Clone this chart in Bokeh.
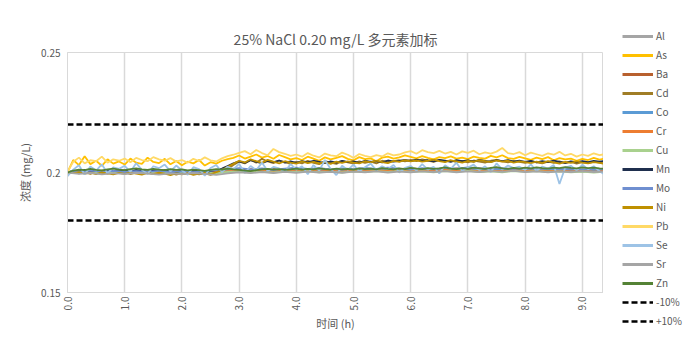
from bokeh.plotting import figure
from bokeh.models import Legend, LegendItem, FixedTicker, Range1d
from bokeh.layouts import row, column
from bokeh.embed import file_html
from bokeh.resources import INLINE

TITLE = "25% NaCl 0.20 mg/L 多元素加标"
X_LABEL = "时间 (h)"
Y_LABEL = "浓度 (mg/L)"

# sample times (h)
TIME = [round(i * 0.1, 1) for i in range(95)]
TIME_COARSE = [round(i * 0.2, 1) for i in range(48)]

X_TICKS = [0, 1, 2, 3, 4, 5, 6, 7, 8, 9]
X_TICK_LABELS = ["0.0", "1.0", "2.0", "3.0", "4.0", "5.0", "6.0", "7.0", "8.0", "9.0"]
Y_TICKS = [0.15, 0.2, 0.25]
Y_TICK_LABELS = ["0.15", "0.2", "0.25"]

LIMIT_LOW = 0.18
LIMIT_HIGH = 0.22

Al = [0.2000, 0.2004, 0.2001, 0.2006, 0.2002, 0.2005, 0.2000, 0.2003, 0.2007, 0.2002,
      0.2004, 0.1999, 0.2003, 0.2006, 0.2001, 0.2005, 0.2008, 0.2003, 0.2006, 0.2002,
      0.2007, 0.2004, 0.2009, 0.2005, 0.2008, 0.2003, 0.2007, 0.2010, 0.2005, 0.2008,
      0.2004, 0.2009, 0.2006, 0.2010, 0.2005, 0.2008, 0.2004, 0.2007, 0.2011, 0.2006,
      0.2009, 0.2005, 0.2008, 0.2004, 0.2007, 0.2003, 0.2006, 0.2004]
Ba = [0.2000, 0.2006, 0.2002, 0.2008, 0.2003, 0.2007, 0.2001, 0.2005, 0.2009, 0.2004,
      0.2006, 0.2001, 0.2005, 0.2002, 0.2006, 0.2010, 0.2014, 0.2011, 0.2015, 0.2012,
      0.2016, 0.2013, 0.2017, 0.2012, 0.2015, 0.2011, 0.2016, 0.2013, 0.2017, 0.2014,
      0.2018, 0.2013, 0.2016, 0.2012, 0.2017, 0.2014, 0.2018, 0.2013, 0.2016, 0.2012,
      0.2015, 0.2011, 0.2016, 0.2013, 0.2015, 0.2012, 0.2014, 0.2011]
Co = [0.2000, 0.2003, 0.2007, 0.2002, 0.2006, 0.2001, 0.2005, 0.2008, 0.2003, 0.2006,
      0.2002, 0.2005, 0.2000, 0.2004, 0.2007, 0.2010, 0.2006, 0.2011, 0.2007, 0.2012,
      0.2008, 0.2011, 0.2006, 0.2010, 0.2013, 0.2008, 0.2012, 0.2009, 0.2013, 0.2008,
      0.2011, 0.2015, 0.2010, 0.2013, 0.2009, 0.2012, 0.2016, 0.2011, 0.2014, 0.2009,
      0.2012, 0.2008, 0.2011, 0.2014, 0.2009, 0.2012, 0.2008, 0.2010]
Cr = [0.2000, 0.2005, 0.2001, 0.2004, 0.2000, 0.2006, 0.2002, 0.2005, 0.2001, 0.2004,
      0.2007, 0.2002, 0.2005, 0.2001, 0.2006, 0.2009, 0.2005, 0.2008, 0.2004, 0.2009,
      0.2006, 0.2010, 0.2005, 0.2008, 0.2004, 0.2009, 0.2006, 0.2011, 0.2007, 0.2010,
      0.2005, 0.2009, 0.2006, 0.2011, 0.2007, 0.2010, 0.2006, 0.2009, 0.2005, 0.2010,
      0.2007, 0.2011, 0.2006, 0.2009, 0.2005, 0.2008, 0.2004, 0.2007]
Cu = [0.2000, 0.2002, 0.1998, 0.2003, 0.1999, 0.2002, 0.1997, 0.2001, 0.2004, 0.1999,
      0.2002, 0.1998, 0.2001, 0.1997, 0.2002, 0.2005, 0.2001, 0.2004, 0.2000, 0.2005,
      0.2002, 0.2006, 0.2001, 0.2004, 0.2000, 0.2005, 0.2002, 0.2006, 0.2003, 0.2007,
      0.2002, 0.2005, 0.2001, 0.2006, 0.2003, 0.2007, 0.2002, 0.2005, 0.2001, 0.2006,
      0.2003, 0.2006, 0.2002, 0.2005, 0.2001, 0.2004, 0.2000, 0.2003]
Mo = [0.2000, 0.2004, 0.2008, 0.2003, 0.2007, 0.2002, 0.2006, 0.2003, 0.2007, 0.2002,
      0.2005, 0.2001, 0.2006, 0.2010, 0.2014, 0.2018, 0.2013, 0.2017, 0.2012, 0.2016,
      0.2020, 0.2015, 0.2018, 0.2013, 0.2017, 0.2014, 0.2019, 0.2015, 0.2020, 0.2016,
      0.2013, 0.2018, 0.2014, 0.2019, 0.2016, 0.2021, 0.2017, 0.2014, 0.2018, 0.2015,
      0.2019, 0.2014, 0.2017, 0.2013, 0.2016, 0.2012, 0.2015, 0.2013]
Sr = [0.2000, 0.1994, 0.1998, 0.1992, 0.1997, 0.1993, 0.1999, 0.1995, 0.1991, 0.1996,
      0.1993, 0.1998, 0.1994, 0.1990, 0.1996, 0.2001, 0.1997, 0.2002, 0.1998, 0.2003,
      0.1999, 0.2004, 0.2000, 0.2003, 0.1999, 0.2004, 0.2001, 0.2005, 0.2000, 0.2004,
      0.2001, 0.2005, 0.2002, 0.2006, 0.2001, 0.2005, 0.2002, 0.2006, 0.2003, 0.2007,
      0.2002, 0.2005, 0.2001, 0.2005, 0.2002, 0.2006, 0.2002, 0.2004]

As = [0.2001, 0.2052, 0.2031, 0.2068, 0.2035, 0.2049, 0.2028, 0.2055, 0.2037, 0.2046,
      0.2033, 0.2058, 0.2041, 0.2036, 0.2062, 0.2044, 0.2039, 0.2057, 0.2034, 0.2048,
      0.2030, 0.2045, 0.2038, 0.2052, 0.2029, 0.2043, 0.2037, 0.2049, 0.2056, 0.2061,
      0.2071, 0.2058, 0.2066, 0.2075, 0.2062, 0.2069, 0.2057, 0.2073, 0.2064, 0.2055,
      0.2060, 0.2052, 0.2066, 0.2058, 0.2049, 0.2063, 0.2055, 0.2061, 0.2068, 0.2057,
      0.2051, 0.2064, 0.2056, 0.2059, 0.2047, 0.2062, 0.2066, 0.2058, 0.2063, 0.2071,
      0.2065, 0.2059, 0.2068, 0.2061, 0.2055, 0.2064, 0.2060, 0.2067, 0.2058, 0.2062,
      0.2056, 0.2066, 0.2061, 0.2058, 0.2069, 0.2063, 0.2072, 0.2060, 0.2057, 0.2065,
      0.2059, 0.2053, 0.2062, 0.2056, 0.2064, 0.2051, 0.2060, 0.2055, 0.2058, 0.2049,
      0.2057, 0.2052, 0.2061, 0.2054, 0.2058]
Cd = [0.2000, 0.2003, 0.1996, 0.2001, 0.1994, 0.2002, 0.1998, 0.1995, 0.2003, 0.1997,
      0.2001, 0.1993, 0.1999, 0.2004, 0.1996, 0.2000, 0.1994, 0.2002, 0.1998, 0.1991,
      0.1997, 0.1993, 0.1999, 0.1992, 0.1996, 0.1990, 0.1997, 0.2003, 0.2015, 0.2031,
      0.2045, 0.2038, 0.2052, 0.2041, 0.2057, 0.2046, 0.2039, 0.2050, 0.2043, 0.2036,
      0.2044, 0.2038, 0.2049, 0.2040, 0.2035, 0.2047, 0.2041, 0.2036, 0.2048, 0.2042,
      0.2037, 0.2046, 0.2040, 0.2045, 0.2038, 0.2049, 0.2043, 0.2047, 0.2051, 0.2046,
      0.2053, 0.2047, 0.2055, 0.2049, 0.2044, 0.2052, 0.2046, 0.2050, 0.2043, 0.2048,
      0.2042, 0.2050, 0.2045, 0.2041, 0.2049, 0.2053, 0.2046, 0.2042, 0.2048, 0.2044,
      0.2040, 0.2047, 0.2042, 0.2038, 0.2045, 0.2040, 0.2046, 0.2039, 0.2044, 0.2037,
      0.2043, 0.2039, 0.2045, 0.2041, 0.2038]
Mn = [0.2000, 0.2008, 0.2004, 0.2011, 0.2006, 0.2009, 0.2003, 0.2010, 0.2007, 0.2005,
      0.2009, 0.2004, 0.2011, 0.2007, 0.2002, 0.2008, 0.2005, 0.2010, 0.2006, 0.2003,
      0.2007, 0.2002, 0.2009, 0.2005, 0.2001, 0.2006, 0.2010, 0.2016, 0.2027, 0.2038,
      0.2046, 0.2040, 0.2051, 0.2044, 0.2039, 0.2048, 0.2043, 0.2050, 0.2041, 0.2046,
      0.2040, 0.2047, 0.2042, 0.2049, 0.2044, 0.2039, 0.2046, 0.2041, 0.2048, 0.2043,
      0.2046, 0.2040, 0.2049, 0.2044, 0.2047, 0.2042, 0.2050, 0.2045, 0.2048, 0.2053,
      0.2047, 0.2054, 0.2048, 0.2051, 0.2046, 0.2053, 0.2049, 0.2044, 0.2052, 0.2047,
      0.2050, 0.2045, 0.2053, 0.2048, 0.2044, 0.2051, 0.2047, 0.2052, 0.2045, 0.2049,
      0.2044, 0.2048, 0.2042, 0.2047, 0.2043, 0.2049, 0.2044, 0.2040, 0.2046, 0.2042,
      0.2047, 0.2043, 0.2048, 0.2045, 0.2049]
Ni = [0.2000, 0.1997, 0.2002, 0.1995, 0.1999, 0.1993, 0.2001, 0.1996, 0.1992, 0.1998,
      0.1994, 0.2000, 0.1995, 0.1991, 0.1998, 0.1993, 0.1999, 0.1995, 0.1989, 0.1996,
      0.1992, 0.1998, 0.1990, 0.1995, 0.1999, 0.1993, 0.2001, 0.2010, 0.2024, 0.2036,
      0.2049, 0.2042, 0.2055, 0.2047, 0.2040, 0.2053, 0.2045, 0.2038, 0.2047, 0.2041,
      0.2037, 0.2046, 0.2039, 0.2044, 0.2038, 0.2043, 0.2036, 0.2045, 0.2040, 0.2046,
      0.2041, 0.2038, 0.2047, 0.2042, 0.2049, 0.2043, 0.2039, 0.2048, 0.2044, 0.2052,
      0.2046, 0.2051, 0.2045, 0.2049, 0.2054, 0.2047, 0.2043, 0.2051, 0.2046, 0.2041,
      0.2048, 0.2044, 0.2052, 0.2047, 0.2043, 0.2050, 0.2045, 0.2049, 0.2041, 0.2046,
      0.2043, 0.2039, 0.2045, 0.2040, 0.2047, 0.2042, 0.2037, 0.2044, 0.2040, 0.2046,
      0.2041, 0.2038, 0.2043, 0.2040, 0.2036]
Pb = [0.2003, 0.2045, 0.2062, 0.2038, 0.2051, 0.2047, 0.2066, 0.2041, 0.2055, 0.2049,
      0.2058, 0.2043, 0.2061, 0.2052, 0.2047, 0.2064, 0.2055, 0.2049, 0.2060, 0.2046,
      0.2052, 0.2041, 0.2057, 0.2048, 0.2063, 0.2051, 0.2046, 0.2059, 0.2068, 0.2074,
      0.2082, 0.2089, 0.2076, 0.2094, 0.2081, 0.2072, 0.2098, 0.2085, 0.2078, 0.2069,
      0.2075, 0.2066, 0.2081, 0.2070, 0.2063, 0.2079, 0.2071, 0.2068, 0.2083, 0.2074,
      0.2061, 0.2077, 0.2069, 0.2064, 0.2072, 0.2067, 0.2080, 0.2071, 0.2075, 0.2084,
      0.2089, 0.2078, 0.2093, 0.2085, 0.2081, 0.2090, 0.2079, 0.2086, 0.2075, 0.2088,
      0.2082, 0.2091, 0.2076, 0.2084, 0.2079, 0.2087, 0.2102, 0.2081, 0.2077, 0.2085,
      0.2072, 0.2083, 0.2076, 0.2069, 0.2080, 0.2074, 0.2086, 0.2071, 0.2078, 0.2066,
      0.2075, 0.2069, 0.2080, 0.2072, 0.2077]
Se = [0.1985, 0.2012, 0.2030, 0.1992, 0.2025, 0.2008, 0.2034, 0.1996, 0.2021, 0.2015,
      0.2028, 0.2003, 0.2039, 0.2011, 0.1994, 0.2026, 0.2018, 0.2033, 0.2005, 0.2029,
      0.2009, 0.1991, 0.2022, 0.2014, 0.1987, 0.2019, 0.2031, 0.2002, 0.2024, 0.2013,
      0.2036, 0.1998, 0.2027, 0.2010, 0.2041, 0.2006, 0.2023, 0.2017, 0.2003, 0.2035,
      0.2012, 0.2026, 0.1993, 0.2031, 0.2008, 0.2052, 0.2015, 0.1989, 0.2028, 0.2011,
      0.2033, 0.2004, 0.2022, 0.2037, 0.2009, 0.2026, 0.2014, 0.2031, 0.2000, 0.2019,
      0.2027, 0.2008, 0.2035, 0.2012, 0.2024, 0.1996, 0.2030, 0.2015, 0.2041, 0.2006,
      0.2021, 0.2033, 0.2010, 0.2026, 0.2002, 0.2038, 0.2013, 0.2029, 0.2018, 0.2024,
      0.2011, 0.2034, 0.2007, 0.2025, 0.2016, 0.2031, 0.1952, 0.2020, 0.2028, 0.2009,
      0.2032, 0.2014, 0.2026, 0.2005, 0.1990]
Zn = [0.2000, 0.2008, 0.2012, 0.2010, 0.2015, 0.2011, 0.2009, 0.2013, 0.2016, 0.2012,
      0.2010, 0.2014, 0.2017, 0.2013, 0.2011, 0.2015, 0.2012, 0.2010, 0.2014, 0.2011,
      0.2013, 0.2009, 0.2012, 0.2010, 0.2007, 0.2011, 0.2014, 0.2012, 0.2016, 0.2013,
      0.2011, 0.2008, 0.2006, 0.2010, 0.2013, 0.2015, 0.2012, 0.2014, 0.2011, 0.2013,
      0.2016, 0.2012, 0.2015, 0.2013, 0.2017, 0.2014, 0.2012, 0.2016, 0.2013, 0.2015,
      0.2012, 0.2017, 0.2014, 0.2016, 0.2013, 0.2018, 0.2015, 0.2013, 0.2017, 0.2014,
      0.2019, 0.2016, 0.2014, 0.2018, 0.2015, 0.2017, 0.2021, 0.2016, 0.2014, 0.2018,
      0.2015, 0.2020, 0.2017, 0.2015, 0.2019, 0.2022, 0.2017, 0.2015, 0.2019, 0.2016,
      0.2020, 0.2017, 0.2021, 0.2018, 0.2016, 0.2020, 0.2018, 0.2022, 0.2019, 0.2017,
      0.2021, 0.2018, 0.2020, 0.2017, 0.2015]

SERIES = [
    ("Al", TIME_COARSE, Al, "#A5A5A5"),
    ("As", TIME, As, "#FFC000"),
    ("Ba", TIME_COARSE, Ba, "#B8602E"),
    ("Cd", TIME, Cd, "#A07D26"),
    ("Co", TIME_COARSE, Co, "#5B9BD5"),
    ("Cr", TIME_COARSE, Cr, "#ED7D31"),
    ("Cu", TIME_COARSE, Cu, "#A9D18E"),
    ("Mn", TIME, Mn, "#1F2F4E"),
    ("Mo", TIME_COARSE, Mo, "#6F8FD0"),
    ("Ni", TIME, Ni, "#BF9000"),
    ("Pb", TIME, Pb, "#FFD966"),
    ("Se", TIME, Se, "#9DC3E6"),
    ("Sr", TIME_COARSE, Sr, "#A5A5A5"),
    ("Zn", TIME, Zn, "#548235"),
]

FONT = "Noto Sans CJK SC"
TXT = "#595959"
X_MAX = 9.37

p = figure(width=603, height=341, output_backend="svg", toolbar_location=None,
           x_range=Range1d(0, X_MAX), y_range=Range1d(0.15, 0.25),
           min_border_left=67, min_border_right=0, min_border_top=52,
           min_border_bottom=49)

p.title.text = TITLE
p.title.align = "center"
p.title.text_font = FONT
p.title.text_font_size = "14px"
p.title.text_font_style = "normal"
p.title.text_color = TXT
p.title.standoff = 8

p.outline_line_color = "#D9D9D9"
p.ygrid.visible = False
p.xgrid.grid_line_color = "#D9D9D9"
p.xgrid.grid_line_width = 1.5

p.xaxis.ticker = FixedTicker(ticks=X_TICKS)
p.xaxis.major_label_overrides = {t: l for t, l in zip(X_TICKS, X_TICK_LABELS)}
p.xaxis.major_label_orientation = 1.5708
p.yaxis.ticker = FixedTicker(ticks=Y_TICKS)
p.yaxis.major_label_overrides = {t: l for t, l in zip(Y_TICKS, Y_TICK_LABELS)}

for ax in (p.xaxis, p.yaxis):
    ax.axis_line_color = "#D9D9D9"
    ax.major_tick_line_color = None
    ax.minor_tick_line_color = None
    ax.major_tick_out = 0
    ax.major_tick_in = 0
    ax.major_label_text_font = FONT
    ax.major_label_text_font_size = "10px"
    ax.major_label_text_color = TXT
    ax.axis_label_text_font = FONT
    ax.axis_label_text_font_size = "11px"
    ax.axis_label_text_font_style = "normal"
    ax.axis_label_text_color = TXT

p.xaxis.axis_label = X_LABEL
p.yaxis.axis_label = Y_LABEL
p.xaxis.major_label_standoff = 4
p.yaxis.major_label_standoff = 7
p.xaxis.axis_label_standoff = 2
p.yaxis.axis_label_standoff = 5

x_span = [0, X_MAX]
for name, xs, ys, color in SERIES:
    p.line(xs, ys, line_color=color, line_width=1.8)
p.line(x_span, [LIMIT_LOW, LIMIT_LOW], line_color="#000000", line_width=2.5, line_dash="6 3")
p.line(x_span, [LIMIT_HIGH, LIMIT_HIGH], line_color="#000000", line_width=2.5, line_dash="6 3")

# legend panel: same series drawn outside its visible range, only the legend shows
lg = figure(width=84, height=341, output_backend="svg", toolbar_location=None,
            x_range=Range1d(100, 101), y_range=Range1d(0.15, 0.25),
            min_border_left=19, min_border_right=0, min_border_top=28,
            min_border_bottom=0)
lg.axis.visible = False
lg.grid.visible = False
lg.outline_line_color = None
lg.title.visible = False

items = []
for name, xs, ys, color in SERIES:
    r = lg.line(xs, ys, line_color=color, line_width=3)
    items.append(LegendItem(label=name, renderers=[r]))
r_low = lg.line(x_span, [LIMIT_LOW, LIMIT_LOW], line_color="#000000", line_width=2.5,
                line_dash="6 3")
r_high = lg.line(x_span, [LIMIT_HIGH, LIMIT_HIGH], line_color="#000000", line_width=2.5,
                 line_dash="6 3")
items.append(LegendItem(label="-10%", renderers=[r_low]))
items.append(LegendItem(label="+10%", renderers=[r_high]))

legend = Legend(items=items, location="top_left", orientation="vertical",
                glyph_width=31, glyph_height=14, label_height=14, spacing=4,
                padding=2, margin=0, label_standoff=3,
                label_text_font=FONT, label_text_font_size="10px",
                label_text_color=TXT, border_line_color=None,
                background_fill_alpha=0)
lg.add_layout(legend, "center")

layout = row(p, column(lg))
open("out.html", "w").write(file_html(layout, INLINE))
